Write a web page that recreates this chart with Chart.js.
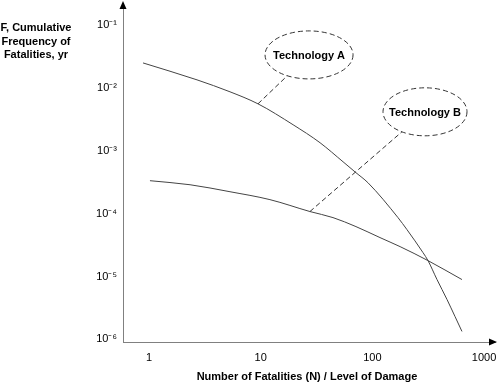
<!DOCTYPE html>
<html>
<head>
<meta charset="utf-8">
<script src="https://cdn.jsdelivr.net/npm/chart.js@4/dist/chart.umd.min.js"></script>
<style>
body{margin:0;background:#fff;}
canvas{display:block;}
</style>
</head>
<body>
<canvas id="grafico" width="500" height="384"></canvas>
<script>
// Datos
const techAx = [0.884, 2.69, 5.31, 9.46, 19.5, 34.0, 54.6, 71.3, 91.3, 169.5, 204, 284, 315, 379, 466, 549, 634];
const techAy = [0.0249, 0.0134, 0.00865, 0.00557, 0.00259, 0.00134, 6.68e-4, 4.48e-4, 3.10e-4, 8.65e-5, 5.57e-5, 2.40e-5, 1.79e-5, 8.95e-6, 4.31e-6, 2.32e-6, 1.34e-6];
const techBx = [1.02, 2.33, 5.31, 12.1, 27.6, 44.4, 71.3, 117, 177, 315, 634];
const techBy = [3.34e-4, 2.88e-4, 2.23e-4, 1.67e-4, 1.08e-4, 8.65e-5, 6.22e-5, 4.16e-5, 2.99e-5, 1.79e-5, 8.95e-6];
const xTicks = [1, 10, 100, 1000];
const xLabels = ["1", "10", "100", "1000"];
const yTicks = [1e-1, 1e-2, 1e-3, 1e-4, 1e-5, 1e-6];
const yLabels = ["10⁻¹", "10⁻²", "10⁻³", "10⁻⁴", "10⁻⁵", "10⁻⁶"];

// Globos de texto: punto de la curva y centro del globo (en valores)
const globos = [
  {texto: "Technology A", px: 9.46, py: 0.00557, cx: 27.1, cy: 0.0334, rx: 44, ry: 24},
  {texto: "Technology B", px: 27.6, py: 1.08e-4, cx: 296, cy: 0.00416, rx: 42, ry: 24}
];

function puntos(xs, ys){
  return xs.map((x, i) => ({x: x, y: ys[i]}));
}

const extras = {
  id: "extras",
  afterDraw(chart){
    const ctx = chart.ctx;
    const a = chart.chartArea;
    const sx = chart.scales.x, sy = chart.scales.y;
    ctx.save();

    // globos con linea discontinua
    ctx.strokeStyle = "#333";
    ctx.lineWidth = 1;
    ctx.setLineDash([5, 3]);
    globos.forEach(g => {
      const x0 = sx.getPixelForValue(g.px), y0 = sy.getPixelForValue(g.py);
      const cx = sx.getPixelForValue(g.cx), cy = sy.getPixelForValue(g.cy);
      const dx = x0 - cx, dy = y0 - cy;
      const t = 1 / Math.sqrt((dx*dx)/(g.rx*g.rx) + (dy*dy)/(g.ry*g.ry));
      ctx.beginPath();
      ctx.moveTo(x0, y0);
      ctx.lineTo(cx + dx*t, cy + dy*t);
      ctx.stroke();
      ctx.beginPath();
      ctx.ellipse(cx, cy, g.rx, g.ry, 0, 0, Math.PI*2);
      ctx.stroke();
      ctx.fillStyle = "#000";
      ctx.font = "bold 11px Arial, 'Liberation Sans', sans-serif";
      ctx.textAlign = "center";
      ctx.textBaseline = "middle";
      ctx.fillText(g.texto, cx, cy + 1);
    });
    ctx.setLineDash([]);

    // titulos
    ctx.fillStyle = "#000";
    ctx.font = "bold 11px Arial, 'Liberation Sans', sans-serif";
    ctx.textAlign = "center";
    ctx.textBaseline = "middle";
    ctx.fillText("F, Cumulative", 36, 28);
    ctx.fillText("Frequency of", 36, 42);
    ctx.fillText("Fatalities, yr", 36, 55);
    ctx.fillText("Number of Fatalities (N) / Level of Damage", 307, 377);

    // flechas de los ejes
    ctx.fillStyle = "#000";
    ctx.beginPath();
    ctx.moveTo(a.left, a.top - 2);
    ctx.lineTo(a.left - 3.5, a.top + 6);
    ctx.lineTo(a.left + 3.5, a.top + 6);
    ctx.closePath();
    ctx.fill();
    ctx.beginPath();
    ctx.moveTo(a.right + 2, a.bottom);
    ctx.lineTo(a.right - 6, a.bottom - 3.5);
    ctx.lineTo(a.right - 6, a.bottom + 3.5);
    ctx.closePath();
    ctx.fill();
    ctx.restore();
  }
};

new Chart(document.getElementById("grafico"), {
  type: "line",
  data: {
    datasets: [
      {label: "Technology A", data: puntos(techAx, techAy), borderColor: "#444", borderWidth: 1, pointRadius: 0, cubicInterpolationMode: "monotone", fill: false},
      {label: "Technology B", data: puntos(techBx, techBy), borderColor: "#444", borderWidth: 1, pointRadius: 0, cubicInterpolationMode: "monotone", fill: false}
    ]
  },
  options: {
    responsive: false,
    animation: false,
    layout: {padding: {top: 3, right: 5, left: 0, bottom: 0}},
    plugins: {legend: {display: false}, tooltip: {enabled: false}},
    scales: {
      x: {
        type: "logarithmic",
        min: 0.585, max: 1253,
        grid: {display: false, drawTicks: false},
        border: {display: true, color: "#808080", width: 1},
        afterBuildTicks: s => { s.ticks = xTicks.map(v => ({value: v})); },
        afterFit: s => { s.height = 42; s.paddingLeft = 0; s.paddingRight = 0; },
        ticks: {
          padding: 9, color: "#000", maxRotation: 0, autoSkip: false,
          font: {family: "Arial, 'Liberation Sans', sans-serif", size: 11},
          callback: (v, i) => xLabels[i]
        }
      },
      y: {
        type: "logarithmic",
        min: 0.91e-6, max: 0.2234,
        grid: {display: false, drawTicks: false},
        border: {display: true, color: "#808080", width: 1},
        afterBuildTicks: s => { s.ticks = yTicks.map(v => ({value: v})); },
        afterFit: s => { s.width = 123; s.paddingTop = 3; s.paddingBottom = 0; },
        ticks: {
          padding: 6, color: "#000", autoSkip: false,
          font: {family: "Arial, 'Liberation Sans', sans-serif", size: 11},
          callback: (v, i) => yLabels[i]
        }
      }
    }
  },
  plugins: [extras]
});
</script>
</body>
</html>
